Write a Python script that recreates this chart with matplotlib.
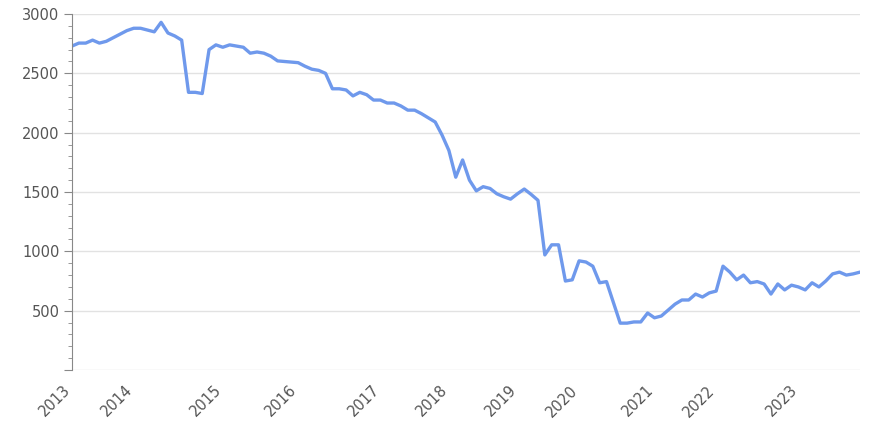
import matplotlib.pyplot as plt
from matplotlib.ticker import MultipleLocator
from matplotlib.transforms import ScaledTranslation

# values, one per data point
values = [
    2730, 2755, 2755, 2780, 2755, 2770, 2800, 2830, 2860, 2880,
    2880, 2865, 2850, 2930, 2840, 2815, 2780, 2340, 2340, 2330,
    2700, 2740, 2720, 2740, 2730, 2720, 2670, 2680, 2670, 2645,
    2605, 2600, 2595, 2590, 2560, 2535, 2525, 2500, 2370, 2370,
    2360, 2310, 2340, 2320, 2275, 2275, 2250, 2250, 2225, 2190,
    2190, 2160, 2125, 2090, 1980, 1850, 1625, 1770, 1600, 1510,
    1545, 1530, 1485, 1460, 1440, 1485, 1525, 1480, 1430, 970,
    1055, 1055, 750, 760, 920, 910, 875, 735, 745, 570,
    395, 395, 405, 405, 480, 440, 455, 505, 555, 590,
    590, 640, 615, 650, 665, 875, 825, 760, 800, 735,
    745, 725, 640, 725, 675, 715, 700, 675, 735, 700,
    750, 810, 825, 800, 810, 825,
]
year_labels = ['2013', '2014', '2015', '2016', '2017', '2018',
               '2019', '2020', '2021', '2022', '2023']
year_index = [0, 9, 22, 33, 45, 55, 65, 74, 85, 94, 106]

x = list(range(len(values)))

fig = plt.figure(figsize=(8.87, 4.25), dpi=100)
ax = fig.add_axes([0.0812, 0.1294, 0.8884, 0.8376])

ax.plot(x, values, color='#6f99ec', linewidth=2.4, solid_joinstyle='round')

ax.set_xlim(0, len(values) - 1)
ax.set_ylim(0, 3000)

ax.yaxis.set_major_locator(MultipleLocator(500))
ax.yaxis.set_minor_locator(MultipleLocator(100))
ax.set_yticks(range(0, 3001, 500))
ax.set_yticklabels([''] + [str(v) for v in range(500, 3001, 500)])
ax.tick_params(axis='y', which='major', length=6, color='#888888',
               labelcolor='#555555', labelsize=10.5, pad=3)
ax.tick_params(axis='y', which='minor', length=3, color='#888888')

ax.set_xticks(year_index)
ax.set_xticklabels(year_labels, rotation=45, ha='right',
                   rotation_mode='anchor')
ax.tick_params(axis='x', length=0, labelcolor='#555555', labelsize=10.5, pad=9)
# nudge the rotated year labels a little to the left
shift = ScaledTranslation(-9 / 100, 0, fig.dpi_scale_trans)
for lbl in ax.get_xticklabels():
    lbl.set_transform(lbl.get_transform() + shift)

ax.grid(axis='y', color='#e2e2e2', linewidth=1)
ax.set_axisbelow(True)
for side in ['top', 'right', 'bottom']:
    ax.spines[side].set_visible(False)
ax.spines['left'].set_color('#888888')

fig.savefig('out.png', dpi=100)
